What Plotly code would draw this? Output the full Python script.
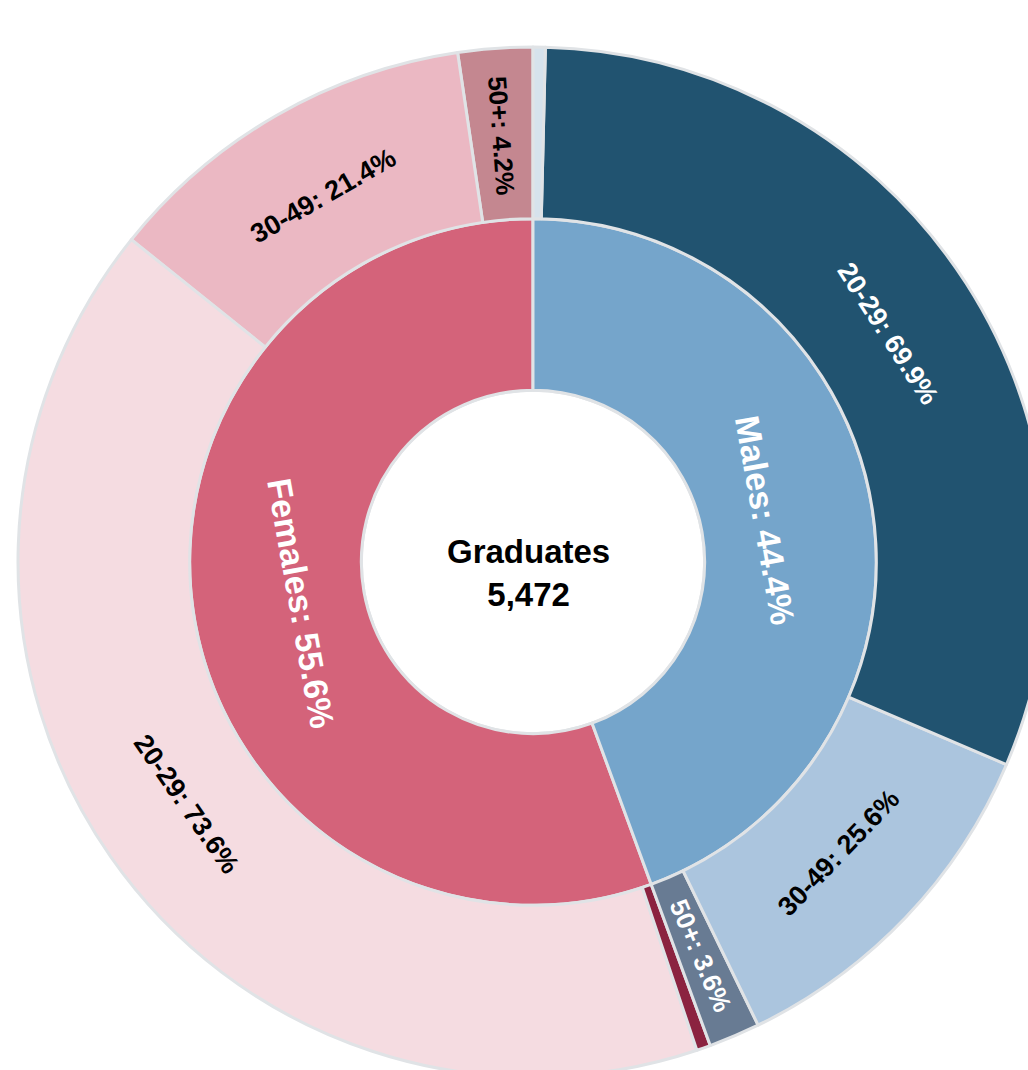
import math
import plotly.graph_objects as go

# ---- data ----
root_label = "Graduates"
total = 5472
genders = ["Males", "Females"]            # clockwise from 12 o'clock
gender_values = [2430, 3042]
age_groups = ["<20", "20-29", "30-49", "50+"]   # clockwise order inside each gender
male_ages = [21, 1699, 622, 88]
female_ages = [24, 2239, 651, 128]

# ---- colours ----
gender_colors = {"Males": "#75A5CB", "Females": "#D4637A"}
age_colors = {
    "Males": ["#D6E2EC", "#215370", "#ABC5DE", "#687B93"],
    "Females": ["#8B2340", "#F5DCE1", "#EBB8C3", "#C48790"],
}
age_text_colors = {
    "Males": ["black", "white", "black", "white"],
    "Females": ["white", "black", "black", "black"],
}
age_values = {"Males": male_ages, "Females": female_ages}

# ---- geometry of the page ----
W, H = 1060, 1090
cx, cy, R = 533, 562, 515
ring = R / 3
dom = dict(x=[(cx - R) / W, (cx + R) / W], y=[(H - cy - R) / H, (H - cy + R) / H])
FONT = "Liberation Sans, Arial, sans-serif"

# sunburst draws counterclockwise, so feed nodes in reverse clockwise order
ids, labels, parents, values, colors = ["root"], [root_label], [""], [total], ["white"]
for g, gv in reversed(list(zip(genders, gender_values))):
    ids.append(g); labels.append(g); parents.append("root"); values.append(gv)
    colors.append(gender_colors[g])
    for a, v, c in reversed(list(zip(age_groups, age_values[g], age_colors[g]))):
        ids.append(f"{g}-{a}"); labels.append(a); parents.append(g); values.append(v)
        colors.append(c)

fig = go.Figure(go.Sunburst(
    ids=ids, labels=labels, parents=parents, values=values,
    branchvalues="total", sort=False, rotation=90, domain=dom,
    textinfo="none", leaf=dict(opacity=1),
    marker=dict(colors=colors, line=dict(color="#E0E3E6", width=3)),
    hoverinfo="label+value+percent parent",
))

annotations = []


def upright(a):
    a = a % 180
    return a - 180 if a > 90 else a


def add_label(text, theta, r, color, size, orient):
    th = math.radians(theta)
    px = cx + r * math.sin(th)
    py = cy - r * math.cos(th)
    ang = upright(theta) if orient == "tangential" else upright(theta - 90)
    annotations.append(dict(
        x=px / W, y=1 - py / H, xref="paper", yref="paper",
        text=f"<b>{text}</b>", showarrow=False, textangle=ang,
        xanchor="center", yanchor="middle",
        font=dict(family=FONT, size=size, color=color),
    ))


# centre label
annotations.append(dict(
    x=cx / W, y=1 - cy / H, xref="paper", yref="paper", xshift=-5, yshift=-11,
    text=f"<b>{root_label}</b><br><b>{total:,}</b>", showarrow=False,
    xanchor="center", yanchor="middle",
    font=dict(family=FONT, size=33, color="black"),
))

cum = 0
for g, gv in zip(genders, gender_values):
    mid = (cum + gv / 2) / total * 360
    add_label(f"{g}: {gv / total * 100:.1f}%", mid, ring * 1.375, "white", 34, "tangential")
    sub = cum
    for a, v, tc in zip(age_groups, age_values[g], age_text_colors[g]):
        pct = v / gv * 100
        m = (sub + v / 2) / total * 360
        if pct >= 10:
            add_label(f"{a}: {pct:.1f}%", m, ring * 2.46, tc, 27, "tangential")
        elif pct >= 2:
            add_label(f"{a}: {pct:.1f}%", m, ring * 2.49, tc, 26, "radial")
        sub += v
    cum += gv

fig.update_layout(
    width=W, height=H,
    margin=dict(l=0, r=0, t=0, b=0),
    paper_bgcolor="white",
    showlegend=False,
    annotations=annotations,
)

fig.write_html("out.html", config={"displayModeBar": False},
               post_script="document.body.style.margin='0';document.body.style.overflow='hidden';document.documentElement.style.overflow='hidden';")
